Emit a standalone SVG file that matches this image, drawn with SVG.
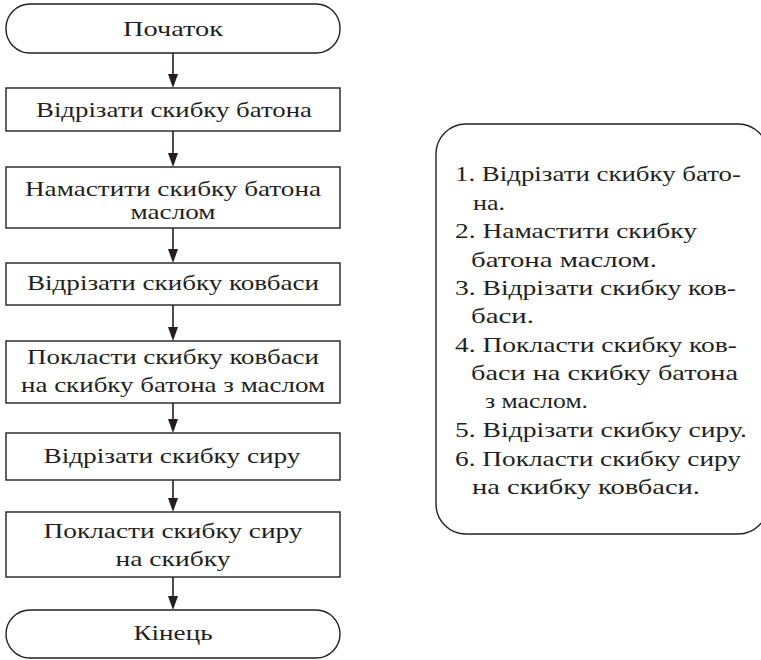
<svg xmlns="http://www.w3.org/2000/svg" width="761" height="660" viewBox="0 0 761 660">
<style>
.s{fill:#fff;stroke:#231f20;stroke-width:1.4}
.t{font-size:22px;fill:#231f20;text-anchor:middle}
.r{font-size:21px;fill:#231f20}
.c{stroke:#231f20;stroke-width:1.6;fill:none}
.a{fill:#231f20}
</style>
<rect width="761" height="660" fill="#fff"/>
<g id="connectors">
<line class="c" x1="173" y1="53" x2="173" y2="75"/><path class="a" d="M168,74 L178,74 L173,88 Z"/>
<line class="c" x1="173" y1="131" x2="173" y2="154"/><path class="a" d="M168,153 L178,153 L173,167 Z"/>
<line class="c" x1="173" y1="228" x2="173" y2="250"/><path class="a" d="M168,249 L178,249 L173,263 Z"/>
<line class="c" x1="173" y1="305" x2="173" y2="328"/><path class="a" d="M168,327 L178,327 L173,341 Z"/>
<line class="c" x1="173" y1="403" x2="173" y2="420"/><path class="a" d="M168,419 L178,419 L173,433 Z"/>
<line class="c" x1="173" y1="480" x2="173" y2="499"/><path class="a" d="M168,498 L178,498 L173,512 Z"/>
<line class="c" x1="173" y1="577" x2="173" y2="597"/><path class="a" d="M168,596 L178,596 L173,610 Z"/>
</g>
<g font-family="Liberation Serif, serif">
<g id="start"><rect class="s" x="6" y="4" width="334" height="49" rx="24" ry="24"/><text class="t" x="173" y="36" textLength="100" lengthAdjust="spacingAndGlyphs">Початок</text></g>
<g id="step1"><rect class="s" x="6" y="88" width="334" height="43"/><text class="t" x="174" y="117" textLength="276" lengthAdjust="spacingAndGlyphs">Відрізати скибку батона</text></g>
<g id="step2"><rect class="s" x="6" y="167" width="334" height="61"/><text class="t" x="173" y="196" textLength="296" lengthAdjust="spacingAndGlyphs">Намастити скибку батона</text><text class="t" x="173" y="219" textLength="85" lengthAdjust="spacingAndGlyphs">маслом</text></g>
<g id="step3"><rect class="s" x="6" y="263" width="334" height="42"/><text class="t" x="173" y="290" textLength="292" lengthAdjust="spacingAndGlyphs">Відрізати скибку ковбаси</text></g>
<g id="step4"><rect class="s" x="6" y="341" width="334" height="62"/><text class="t" x="173" y="364" textLength="292" lengthAdjust="spacingAndGlyphs">Покласти скибку ковбаси</text><text class="t" x="173" y="392" textLength="304" lengthAdjust="spacingAndGlyphs">на скибку батона з маслом</text></g>
<g id="step5"><rect class="s" x="6" y="433" width="334" height="47"/><text class="t" x="172" y="463" textLength="257" lengthAdjust="spacingAndGlyphs">Відрізати скибку сиру</text></g>
<g id="step6"><rect class="s" x="6" y="512" width="334" height="65"/><text class="t" x="173" y="538" textLength="259" lengthAdjust="spacingAndGlyphs">Покласти скибку сиру</text><text class="t" x="173" y="566" textLength="115" lengthAdjust="spacingAndGlyphs">на скибку</text></g>
<g id="end"><rect class="s" x="6" y="610" width="334" height="48" rx="24" ry="24"/><text class="t" x="173" y="640" textLength="79" lengthAdjust="spacingAndGlyphs">Кінець</text></g>
</g>
<g id="list" font-family="Liberation Serif, serif">
<rect class="s" x="436" y="124" width="332" height="410" rx="30" ry="30"/>
<text class="r" x="455" y="181" textLength="286" lengthAdjust="spacingAndGlyphs">1. Відрізати скибку бато-</text>
<text class="r" x="473" y="210" textLength="32" lengthAdjust="spacingAndGlyphs">на.</text>
<text class="r" x="455" y="238" textLength="242" lengthAdjust="spacingAndGlyphs">2. Намастити скибку</text>
<text class="r" x="471" y="267" textLength="186" lengthAdjust="spacingAndGlyphs">батона маслом.</text>
<text class="r" x="455" y="295" textLength="281" lengthAdjust="spacingAndGlyphs">3. Відрізати скибку ков-</text>
<text class="r" x="471" y="323" textLength="63" lengthAdjust="spacingAndGlyphs">баси.</text>
<text class="r" x="455" y="352" textLength="282" lengthAdjust="spacingAndGlyphs">4. Покласти скибку ков-</text>
<text class="r" x="471" y="380" textLength="267" lengthAdjust="spacingAndGlyphs">баси на скибку батона</text>
<text class="r" x="485" y="408" textLength="103" lengthAdjust="spacingAndGlyphs">з маслом.</text>
<text class="r" x="455" y="437" textLength="292" lengthAdjust="spacingAndGlyphs">5. Відрізати скибку сиру.</text>
<text class="r" x="455" y="466" textLength="286" lengthAdjust="spacingAndGlyphs">6. Покласти скибку сиру</text>
<text class="r" x="472" y="494" textLength="228" lengthAdjust="spacingAndGlyphs">на скибку ковбаси.</text>
</g>
</svg>
